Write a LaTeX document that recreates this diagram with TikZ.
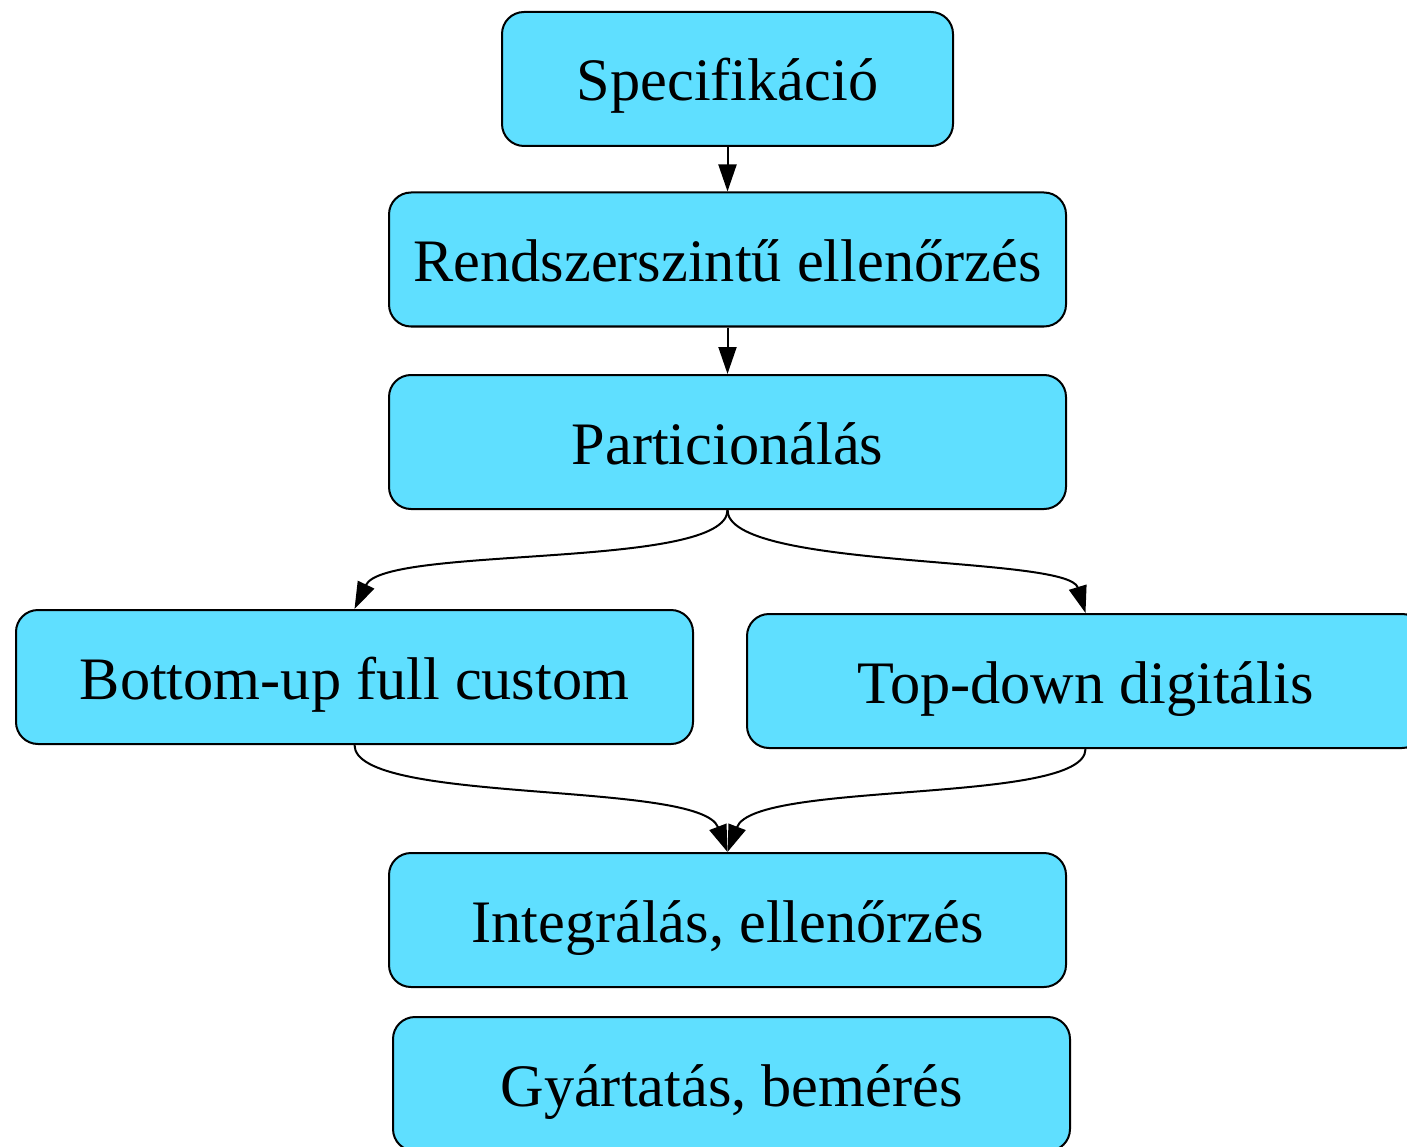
\documentclass[tikz,border=0pt]{standalone}
\usepackage{fontspec}
\setmainfont{Liberation Serif}
\usetikzlibrary{arrows.meta}
\definecolor{boxfill}{RGB}{95,223,255}
\begin{document}
\begin{tikzpicture}[x=1pt,y=-1pt,
  box/.style={draw=black,fill=boxfill,line width=2pt,rounded corners=22pt,
    minimum width=677pt,minimum height=134pt,inner sep=0pt,
    text height=44pt,text depth=0pt,
    font=\fontsize{60.3}{72}\selectfont},
  conn/.style={line width=2pt,-{Triangle[length=27pt,width=18pt]}}]
\useasboundingbox (0,0) rectangle (1407,1147);
\clip (0,0) rectangle (1407,1147);
\node[box,minimum width=451pt] (spec) at (727.5,79) {Specifikáció};
\node[box] (rend) at (727.5,259.5) {Rendszerszintű ellenőrzés};
\node[box] (part) at (727.5,442) {Particionálás};
\node[box] (bot) at (354.5,677) {Bottom-up full custom};
\node[box] (top) at (1085.5,681) {Top-down digitális};
\node[box] (integ) at (727.5,920) {Integrálás, ellenőrzés};
\node[box] (gyart) at (731.5,1084) {Gyártatás, bemérés};
\draw[conn] (spec.south) -- (rend.north);
\draw[conn] (rend.south) -- (part.north);
\draw[conn] (part.south) .. controls (727.5,570) and (385,545) .. (bot.north);
\draw[conn] (part.south) .. controls (727.5,570) and (1068,555) .. (top.north);
\draw[conn] (bot.south) .. controls (354.5,805) and (700,780) .. (integ.north);
\draw[conn] (top.south) .. controls (1085.5,805) and (755,780) .. (integ.north);
\end{tikzpicture}
\end{document}
